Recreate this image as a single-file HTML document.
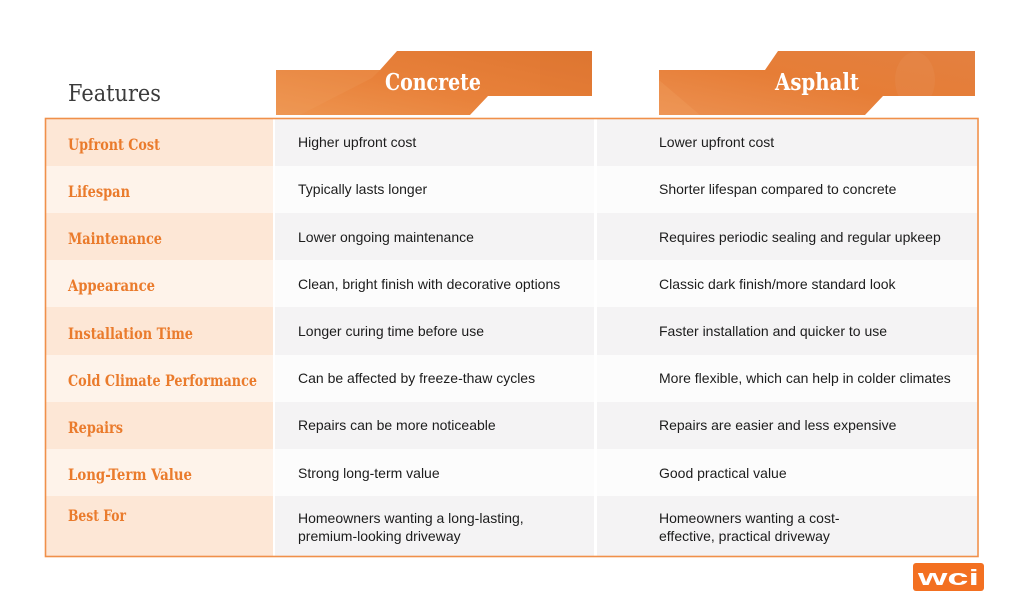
<!DOCTYPE html>
<html>
<head>
<meta charset="utf-8">
<style>
html,body{margin:0;padding:0;background:#ffffff;}
svg{display:block;}
.lbl{font-family:"DejaVu Serif","Liberation Serif",serif;font-weight:bold;fill:#ea7b2c;font-size:15.5px;}
.dt{font-family:"Liberation Sans",Arial,sans-serif;fill:#1c1c1c;font-size:14px;}
.hd{font-family:"DejaVu Serif","Liberation Serif",serif;fill:#ffffff;font-size:23px;font-weight:bold;}
</style>
</head>
<body>
<svg width="1024" height="608" viewBox="0 0 1024 608" xmlns="http://www.w3.org/2000/svg">
<defs>
  <linearGradient id="bg1" x1="0" y1="1" x2="1" y2="0">
    <stop offset="0" stop-color="#ee9550"/>
    <stop offset="0.45" stop-color="#e8813a"/>
    <stop offset="1" stop-color="#df7631"/>
  </linearGradient>
  <linearGradient id="bg2" x1="0" y1="1" x2="1" y2="0">
    <stop offset="0" stop-color="#ec9050"/>
    <stop offset="0.5" stop-color="#e67d36"/>
    <stop offset="1" stop-color="#e38040"/>
  </linearGradient>
  <clipPath id="c1"><polygon points="276,70 380,70 397,51 592,51 592,96 488,96 470,115 276,115"/></clipPath>
  <clipPath id="c2"><polygon points="659,70 765,70 778,51 975,51 975,96 883,96 865,115 659,115"/></clipPath>
</defs>
<rect width="1024" height="608" fill="#ffffff"/>

<!-- Title -->
<text x="68" y="101" font-family="DejaVu Serif, Liberation Serif, serif" font-size="23" fill="#3b3b3b" textLength="93" lengthAdjust="spacingAndGlyphs">Features</text>

<!-- Concrete banner -->
<polygon points="276,70 380,70 397,51 592,51 592,96 488,96 470,115 276,115" fill="url(#bg1)"/>
<g clip-path="url(#c1)">
  <polygon points="276,70 380,70 372,78 300,115 276,115" fill="#f0a060" opacity="0.25"/>
  <rect x="540" y="51" width="52" height="45" fill="#d8702e" opacity="0.15"/>
</g>
<text class="hd" x="385" y="90" textLength="96" lengthAdjust="spacingAndGlyphs">Concrete</text>

<!-- Asphalt banner -->
<polygon points="659,70 765,70 778,51 975,51 975,96 883,96 865,115 659,115" fill="url(#bg2)"/>
<g clip-path="url(#c2)">
  <polygon points="659,80 700,115 659,115" fill="#f2a868" opacity="0.25"/>
  <ellipse cx="915" cy="80" rx="20" ry="28" fill="#e8925a" opacity="0.25"/>
</g>
<text class="hd" x="775" y="90" textLength="84" lengthAdjust="spacingAndGlyphs">Asphalt</text>

<!-- Row backgrounds -->
<rect x="46" y="119" width="227" height="47" fill="#fde7d6"/>
<rect x="46" y="166" width="227" height="47" fill="#fef3ea"/>
<rect x="46" y="213" width="227" height="47" fill="#fde7d6"/>
<rect x="46" y="260" width="227" height="47" fill="#fef3ea"/>
<rect x="46" y="307" width="227" height="48" fill="#fde7d6"/>
<rect x="46" y="355" width="227" height="47" fill="#fef3ea"/>
<rect x="46" y="402" width="227" height="47" fill="#fde7d6"/>
<rect x="46" y="449" width="227" height="47" fill="#fef3ea"/>
<rect x="46" y="496" width="227" height="60" fill="#fde7d6"/>

<rect x="275" y="119" width="319" height="47" fill="#f4f3f4"/>
<rect x="275" y="166" width="319" height="47" fill="#fcfcfc"/>
<rect x="275" y="213" width="319" height="47" fill="#f4f3f4"/>
<rect x="275" y="260" width="319" height="47" fill="#fcfcfc"/>
<rect x="275" y="307" width="319" height="48" fill="#f4f3f4"/>
<rect x="275" y="355" width="319" height="47" fill="#fcfcfc"/>
<rect x="275" y="402" width="319" height="47" fill="#f4f3f4"/>
<rect x="275" y="449" width="319" height="47" fill="#fcfcfc"/>
<rect x="275" y="496" width="319" height="60" fill="#f4f3f4"/>

<rect x="597" y="119" width="380" height="47" fill="#f4f3f4"/>
<rect x="597" y="166" width="380" height="47" fill="#fcfcfc"/>
<rect x="597" y="213" width="380" height="47" fill="#f4f3f4"/>
<rect x="597" y="260" width="380" height="47" fill="#fcfcfc"/>
<rect x="597" y="307" width="380" height="48" fill="#f4f3f4"/>
<rect x="597" y="355" width="380" height="47" fill="#fcfcfc"/>
<rect x="597" y="402" width="380" height="47" fill="#f4f3f4"/>
<rect x="597" y="449" width="380" height="47" fill="#fcfcfc"/>
<rect x="597" y="496" width="380" height="60" fill="#f4f3f4"/>

<!-- Outer border -->
<rect x="45.5" y="118.5" width="932.5" height="438" fill="none" stroke="#f0904a" stroke-width="1.6"/>

<!-- Labels -->
<text class="lbl" x="68" y="150" textLength="92" lengthAdjust="spacingAndGlyphs">Upfront Cost</text>
<text class="lbl" x="68" y="197" textLength="62" lengthAdjust="spacingAndGlyphs">Lifespan</text>
<text class="lbl" x="68" y="244" textLength="94" lengthAdjust="spacingAndGlyphs">Maintenance</text>
<text class="lbl" x="68" y="291" textLength="87" lengthAdjust="spacingAndGlyphs">Appearance</text>
<text class="lbl" x="68" y="339" textLength="125" lengthAdjust="spacingAndGlyphs">Installation Time</text>
<text class="lbl" x="68" y="386" textLength="189" lengthAdjust="spacingAndGlyphs">Cold Climate Performance</text>
<text class="lbl" x="68" y="433" textLength="55" lengthAdjust="spacingAndGlyphs">Repairs</text>
<text class="lbl" x="68" y="480" textLength="124" lengthAdjust="spacingAndGlyphs">Long-Term Value</text>
<text class="lbl" x="68" y="521" textLength="58" lengthAdjust="spacingAndGlyphs">Best For</text>

<!-- Concrete data -->
<text class="dt" x="298" y="147">Higher upfront cost</text>
<text class="dt" x="298" y="194">Typically lasts longer</text>
<text class="dt" x="298" y="242">Lower ongoing maintenance</text>
<text class="dt" x="298" y="289">Clean, bright finish with decorative options</text>
<text class="dt" x="298" y="336">Longer curing time before use</text>
<text class="dt" x="298" y="383">Can be affected by freeze-thaw cycles</text>
<text class="dt" x="298" y="430">Repairs can be more noticeable</text>
<text class="dt" x="298" y="478">Strong long-term value</text>
<text class="dt" x="298" y="523">Homeowners wanting a long-lasting,</text>
<text class="dt" x="298" y="541">premium-looking driveway</text>

<!-- Asphalt data -->
<text class="dt" x="659" y="147">Lower upfront cost</text>
<text class="dt" x="659" y="194">Shorter lifespan compared to concrete</text>
<text class="dt" x="659" y="242">Requires periodic sealing and regular upkeep</text>
<text class="dt" x="659" y="289">Classic dark finish/more standard look</text>
<text class="dt" x="659" y="336">Faster installation and quicker to use</text>
<text class="dt" x="659" y="383">More flexible, which can help in colder climates</text>
<text class="dt" x="659" y="430">Repairs are easier and less expensive</text>
<text class="dt" x="659" y="478">Good practical value</text>
<text class="dt" x="659" y="523">Homeowners wanting a cost-</text>
<text class="dt" x="659" y="541">effective, practical driveway</text>

<!-- Logo -->
<rect x="913" y="563" width="71" height="28" rx="3" ry="3" fill="#f37021"/>
<text x="918" y="585" font-family="Liberation Sans, Arial, sans-serif" font-weight="bold" font-size="22" fill="#ffffff" textLength="61" lengthAdjust="spacingAndGlyphs">wci</text>
</svg>
</body>
</html>
